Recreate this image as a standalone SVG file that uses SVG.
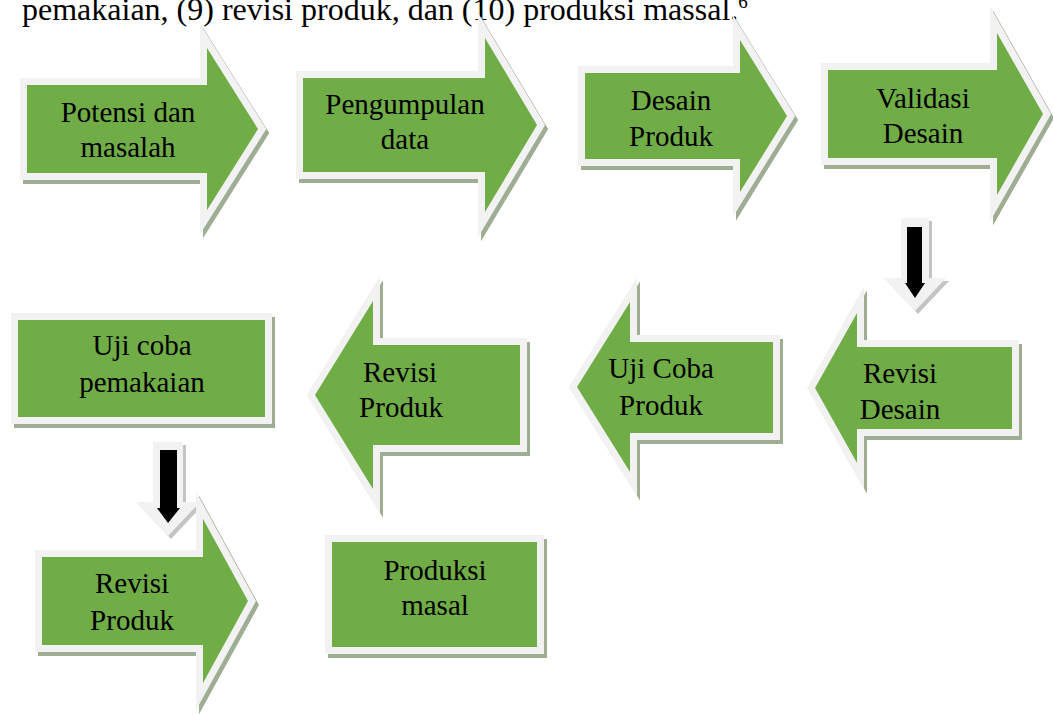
<svg xmlns="http://www.w3.org/2000/svg" width="1053" height="716" viewBox="0 0 1053 716">
<style>
.sh{fill:#9FAD94;stroke:#9FAD94;stroke-width:14;stroke-linejoin:miter;stroke-miterlimit:10}
.nd{fill:#70AD47;stroke:#F2F2F2;stroke-width:14;stroke-linejoin:miter;stroke-miterlimit:10;paint-order:stroke}
.t{font-family:"Liberation Serif","Times New Roman",serif;font-size:29px;fill:#000;text-anchor:middle}
.dash{fill:#C4C4C4}
.dout{fill:#F2F2F2}
.din{fill:#000}
</style>
<rect width="1053" height="716" fill="#fff"/>
<text x="22" y="20" font-family="Liberation Serif, Times New Roman, serif" font-size="32" fill="#000">pemakaian, (9) revisi produk, dan (10) produksi massal.<tspan font-size="19" dy="-12">6</tspan></text>

<g id="connectors">
  <g id="down1">
    <polygon class="dash" points="904,221 932,221 932,281 949,281 918,314 887,281 904,281"/>
    <polygon class="dout" points="901,218 929,218 929,278 946,278 915,311 884,278 901,278"/>
    <polygon class="din" points="907,227 922,227 922,283 925,283 915,298 905,283 907,283"/>
  </g>
  <g id="down2">
    <polygon class="dash" points="156,445 186,445 186,505 203,505 171,539 139,505 156,505"/>
    <polygon class="dout" points="153,442 183,442 183,502 200,502 168,536 136,502 153,502"/>
    <polygon class="din" points="160,450 177,450 177,508 180,508 168,523 157,508 160,508"/>
  </g>
</g>

<g id="n1">
  <polygon class="sh" transform="translate(3,4)" points="27,85 207,85 207,48 258,129 207,210 207,173 27,173"/>
  <polygon class="nd" points="27,85 207,85 207,48 258,129 207,210 207,173 27,173"/>
  <text class="t" x="128" y="122">Potensi dan</text>
  <text class="t" x="128" y="157">masalah</text>
</g>
<g id="n2">
  <polygon class="sh" transform="translate(3,4)" points="303,78 485,78 485,38 537,125 485,212 485,172 303,172"/>
  <polygon class="nd" points="303,78 485,78 485,38 537,125 485,212 485,172 303,172"/>
  <text class="t" x="405" y="114">Pengumpulan</text>
  <text class="t" x="405" y="149">data</text>
</g>
<g id="n3">
  <polygon class="sh" transform="translate(3,4)" points="585,73 740,73 740,40 787,116 740,192 740,159 585,159"/>
  <polygon class="nd" points="585,73 740,73 740,40 787,116 740,192 740,159 585,159"/>
  <text class="t" x="671" y="110">Desain</text>
  <text class="t" x="671" y="146">Produk</text>
</g>
<g id="n4">
  <polygon class="sh" transform="translate(3,4)" points="828,70 997,70 997,33 1043,114 997,195 997,158 828,158"/>
  <polygon class="nd" points="828,70 997,70 997,33 1043,114 997,195 997,158 828,158"/>
  <text class="t" x="923" y="108">Validasi</text>
  <text class="t" x="923" y="143">Desain</text>
</g>
<g id="n5">
  <polygon class="sh" transform="translate(3,4)" points="1012,347 857,347 857,313 815,388 857,463 857,429 1012,429"/>
  <polygon class="nd" points="1012,347 857,347 857,313 815,388 857,463 857,429 1012,429"/>
  <text class="t" x="900" y="383">Revisi</text>
  <text class="t" x="900" y="419">Desain</text>
</g>
<g id="n6">
  <polygon class="sh" transform="translate(3,4)" points="773,342 630,342 630,302 577,387 630,472 630,433 773,433"/>
  <polygon class="nd" points="773,342 630,342 630,302 577,387 630,472 630,433 773,433"/>
  <text class="t" x="661" y="378">Uji Coba</text>
  <text class="t" x="661" y="415">Produk</text>
</g>
<g id="n7">
  <polygon class="sh" transform="translate(3,4)" points="520,345 373,345 373,301 315,395 373,489 373,445 520,445"/>
  <polygon class="nd" points="520,345 373,345 373,301 315,395 373,489 373,445 520,445"/>
  <text class="t" x="400" y="382">Revisi</text>
  <text class="t" x="401" y="417">Produk</text>
</g>
<g id="n8">
  <rect class="sh" transform="translate(3,4)" x="18" y="320" width="247" height="97"/>
  <rect class="nd" x="18" y="320" width="247" height="97"/>
  <text class="t" x="142" y="355">Uji coba</text>
  <text class="t" x="142" y="392">pemakaian</text>
</g>
<g id="n9">
  <polygon class="sh" transform="translate(3,4)" points="42,557 203,557 203,519 248,601 203,683 203,645 42,645"/>
  <polygon class="nd" points="42,557 203,557 203,519 248,601 203,683 203,645 42,645"/>
  <text class="t" x="132" y="593">Revisi</text>
  <text class="t" x="132" y="630">Produk</text>
</g>
<g id="n10">
  <rect class="sh" transform="translate(3,4)" x="332" y="542" width="205" height="105"/>
  <rect class="nd" x="332" y="542" width="205" height="105"/>
  <text class="t" x="435" y="580">Produksi</text>
  <text class="t" x="435" y="615">masal</text>
</g>
</svg>
